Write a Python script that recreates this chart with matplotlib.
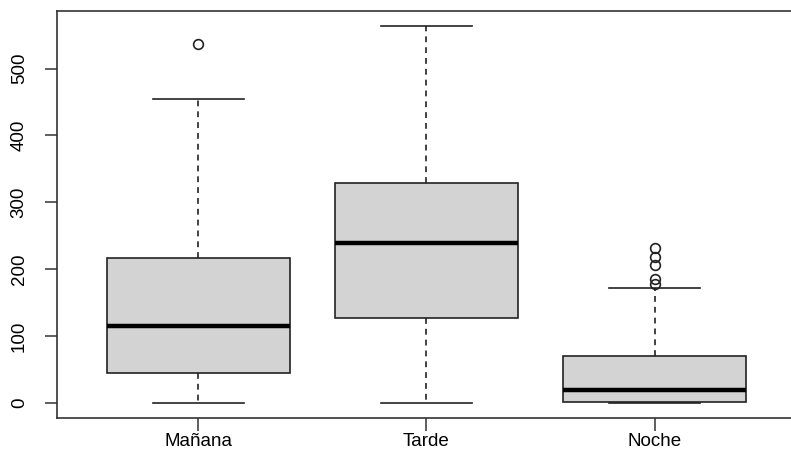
import matplotlib
matplotlib.use('Agg')
import matplotlib.pyplot as plt

labels = ['Mañana', 'Tarde', 'Noche']
q1 = [45, 127, 2]
med = [115, 239, 19]
q3 = [217, 329, 70]
whislo = [0, 0, 0]
whishi = [454, 564, 172]
fliers = [[537], [], [231, 218, 206, 186, 178]]

plt.rcParams['font.family'] = ['Liberation Sans', 'DejaVu Sans']

stats = []
for i in range(len(labels)):
    stats.append({'label': labels[i], 'q1': q1[i], 'med': med[i], 'q3': q3[i],
                  'whislo': whislo[i], 'whishi': whishi[i], 'fliers': fliers[i]})

fig = plt.figure(figsize=(7.91, 4.66), dpi=100)
ax = fig.add_axes([57 / 791, 48 / 466, 739 / 791, 407 / 466])

ax.bxp(stats, positions=[1, 2, 3], widths=0.8, patch_artist=True,
       boxprops=dict(facecolor='#d3d3d3', edgecolor='#222222', linewidth=1.2),
       medianprops=dict(color='black', linewidth=3.2, solid_capstyle='butt'),
       whiskerprops=dict(color='#222222', linewidth=1.2, linestyle=(0, (3.5, 3))),
       capprops=dict(color='#222222', linewidth=1.2),
       capwidths=0.4,
       flierprops=dict(marker='o', markerfacecolor='none', markeredgecolor='#222222',
                       markersize=7, markeredgewidth=1.2))

ax.set_xlim(0.38, 3.62)
ax.set_ylim(-22.5, 586)
ax.set_yticks([0, 100, 200, 300, 400, 500])
ax.set_yticklabels(['0', '100', '200', '300', '400', '500'], rotation=90, va='center')
ax.set_xticks([1, 2, 3])
ax.set_xticklabels(labels)
ax.tick_params(axis='both', labelsize=13.5, length=9, width=1.1, color='#333333', pad=2)
ax.tick_params(axis='y', pad=12)
for s in ax.spines.values():
    s.set_linewidth(1.2)
    s.set_color('#333333')

fig.savefig('out.png', dpi=100)
